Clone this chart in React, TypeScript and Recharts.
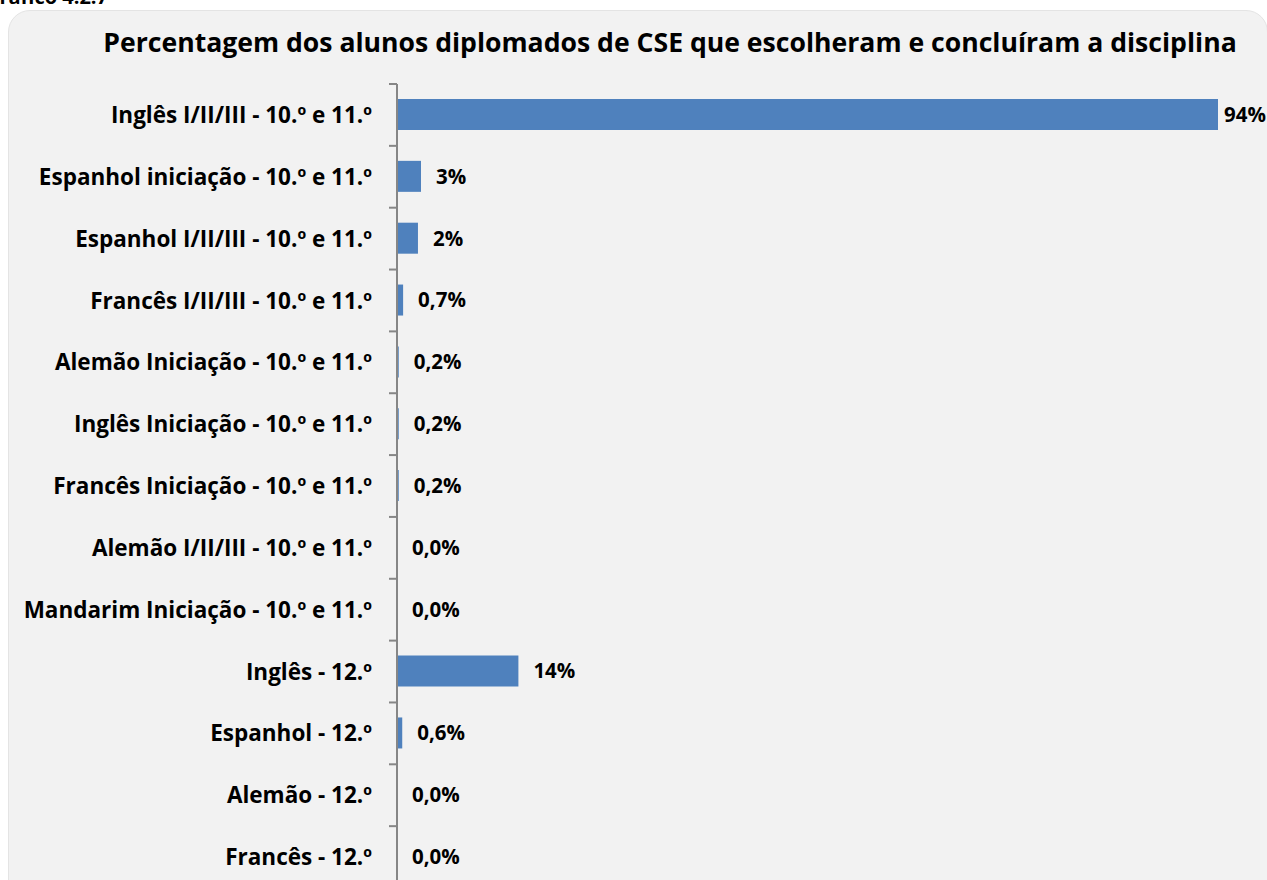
import React from "react"
import { BarChart, Bar, XAxis, YAxis, LabelList } from "recharts"

const categories = [
  "Inglês I/II/III - 10.º e 11.º",
  "Espanhol iniciação - 10.º e 11.º",
  "Espanhol I/II/III - 10.º e 11.º",
  "Francês I/II/III - 10.º e 11.º",
  "Alemão Iniciação - 10.º e 11.º",
  "Inglês Iniciação - 10.º e 11.º",
  "Francês Iniciação - 10.º e 11.º",
  "Alemão I/II/III - 10.º e 11.º",
  "Mandarim Iniciação - 10.º e 11.º",
  "Inglês - 12.º",
  "Espanhol - 12.º",
  "Alemão - 12.º",
  "Francês - 12.º",
]

const values = [94, 2.75, 2.4, 0.7, 0.2, 0.2, 0.2, 0, 0, 13.9, 0.6, 0, 0]

const valueLabels = ["94%", "3%", "2%", "0,7%", "0,2%", "0,2%", "0,2%", "0,0%", "0,0%", "14%", "0,6%", "0,0%", "0,0%"]

const data = categories.map((name, i) => ({
  name,
  value: values[i],
  label: valueLabels[i],
}))

const FONT = "'Open Sans', sans-serif"
const CHART_W = 1260
const CHART_H = 878
const TOP = 74
const TICK_MARGIN = 25
const STEP = (CHART_H - TOP) / categories.length

function ValueLabel(props: any) {
  const { x, y, width, height, value } = props
  const tx = Math.min(x + width + 15, CHART_W - 44)
  return (
    <text
      x={tx}
      y={y + height / 2}
      dy="0.36em"
      fontFamily={FONT}
      fontWeight={700}
      fontSize={20.5}
      fill="#000"
    >
      {value}
    </text>
  )
}

function CategoryTick(props: any) {
  const { x, y, payload } = props
  const axisX = x + TICK_MARGIN
  const top = y - STEP / 2
  return (
    <g>
      <line x1={axisX - 8} x2={axisX} y1={top} y2={top} stroke="#868686" strokeWidth={2} />
      <text
        x={x}
        y={y}
        dy="0.36em"
        textAnchor="end"
        fontFamily={FONT}
        fontWeight={700}
        fontSize={22.5}
        fill="#000"
      >
        {payload.value}
      </text>
    </g>
  )
}

export default function App() {
  return (
    <div
      style={{
        position: "fixed",
        left: 0,
        top: 0,
        width: 1267,
        height: 880,
        overflow: "hidden",
        background: "#fff",
        fontFamily: FONT,
      }}
    >
      <div
        style={{
          position: "absolute",
          left: -80,
          top: -13,
          width: 188,
          textAlign: "right",
          fontWeight: 700,
          fontSize: 20,
          lineHeight: "20px",
          color: "#000",
        }}
      >
        Gráfico 4.2.7
      </div>
      <div
        style={{
          position: "absolute",
          left: 8,
          top: 10,
          width: 1260,
          height: 900,
          boxSizing: "border-box",
          background: "#f2f2f2",
          border: "1px solid #e4e4e4",
          borderRadius: 22,
        }}
      />
      <div
        style={{
          position: "absolute",
          left: 70,
          top: 25,
          width: 1200,
          textAlign: "center",
          fontWeight: 700,
          fontSize: 26.6,
          lineHeight: "34px",
          color: "#000",
          whiteSpace: "nowrap",
        }}
      >
        Percentagem dos alunos diplomados de CSE que escolheram e concluíram a disciplina
      </div>
      <div style={{ position: "absolute", left: 8, top: 10 }}>
        <BarChart
          width={CHART_W}
          height={CHART_H}
          data={data}
          layout="vertical"
          margin={{ top: TOP, right: 50, bottom: 0, left: 0 }}
          barCategoryGap="50%"
        >
          <XAxis xAxisId="val" type="number" domain={[0, "dataMax"]} hide />
          <YAxis
            yAxisId="cat"
            type="category"
            dataKey="name"
            width={389}
            axisLine={{ stroke: "#868686", strokeWidth: 2 }}
            tickLine={false}
            tickSize={0}
            tickMargin={TICK_MARGIN}
            interval={0}
            tick={<CategoryTick />}
          />
          <Bar
            xAxisId="val"
            yAxisId="cat"
            dataKey="value"
            fill="#4f81bd"
            barSize={31}
            minPointSize={0.01}
            isAnimationActive={false}
          >
            <LabelList dataKey="label" content={<ValueLabel />} />
          </Bar>
        </BarChart>
      </div>
    </div>
  )
}
